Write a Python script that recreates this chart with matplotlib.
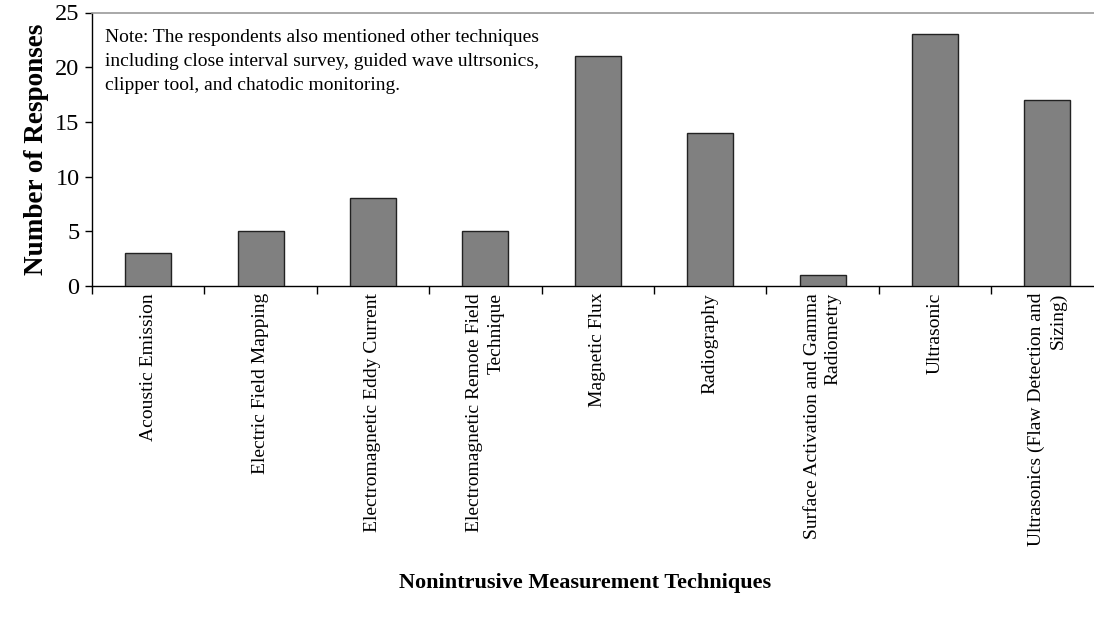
import matplotlib
matplotlib.use("Agg")
import matplotlib.pyplot as plt

techniques = [
    "Acoustic Emission",
    "Electric Field Mapping",
    "Electromagnetic Eddy Current",
    "Electromagnetic Remote Field\nTechnique",
    "Magnetic Flux",
    "Radiography",
    "Surface Activation and Gamma\nRadiometry",
    "Ultrasonic",
    "Ultrasonics (Flaw Detection and\nSizing)",
]
responses = [3, 5, 8, 5, 21, 14, 1, 23, 17]
y_ticks = [0, 5, 10, 15, 20, 25]

note = ("Note: The respondents also mentioned other techniques\n"
        "including close interval survey, guided wave ultrsonics,\n"
        "clipper tool, and chatodic monitoring.")

plt.rcParams["font.family"] = ["Liberation Serif", "DejaVu Serif"]

fig = plt.figure(figsize=(10.94, 6.28), dpi=100)
ax = fig.add_axes([92 / 1094, 1 - 286 / 628, (1103.6 - 92) / 1094, (286 - 12.5) / 628])

x = list(range(len(techniques)))
ax.bar(x, responses, width=0.41, color="#808080", edgecolor="#222222", linewidth=1.0, zorder=3)

ax.set_xlim(-0.5, len(techniques) - 0.5)
ax.set_ylim(0, 25)
ax.set_yticks(y_ticks)
ax.tick_params(axis="y", labelsize=17.5, length=5, width=1, direction="out", pad=4)

# category labels centred, tick marks on category boundaries
ax.set_xticks(x)
ax.set_xticklabels(techniques, rotation=90, fontsize=14, ha="center", va="top",
                   multialignment="right", linespacing=1.3)
ax.tick_params(axis="x", which="major", length=0, pad=5)
ax.set_xticks([i - 0.5 for i in range(len(techniques) + 1)], minor=True)
ax.tick_params(axis="x", which="minor", length=6, width=1, direction="out")

ax.spines["right"].set_visible(False)
ax.spines["top"].set_color("#999999")
ax.spines["top"].set_linewidth(1.2)
ax.spines["left"].set_linewidth(1.0)
ax.spines["bottom"].set_linewidth(1.0)

ax.text(0.013, 0.94, note, transform=ax.transAxes, fontsize=14, va="top", ha="left",
        linespacing=1.55)

ax.set_ylabel("Number of Responses", fontsize=19.5, fontweight="bold", labelpad=4)
fig.text((92 + 1079) / 2 / 1094, 1 - 583 / 628, "Nonintrusive Measurement Techniques",
         fontsize=16, fontweight="bold", ha="center", va="center")

fig.savefig("out.png", dpi=100)
